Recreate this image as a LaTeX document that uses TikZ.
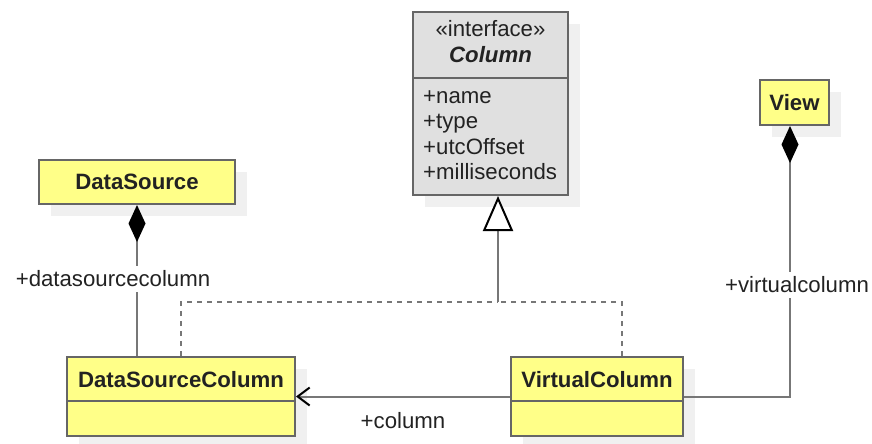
\documentclass[tikz,border=0pt]{standalone}
\usepackage{fontspec}
\setmainfont{Liberation Sans}
\usetikzlibrary{arrows.meta,shadows}

\definecolor{umlyellow}{HTML}{FFFF88}
\definecolor{umlgray}{HTML}{E0E0E0}
\definecolor{umlline}{HTML}{777777}
\definecolor{umlborder}{HTML}{666666}
\definecolor{umltext}{HTML}{222222}

\tikzset{
  box/.style={draw=umlborder, line width=2pt, fill=umlyellow, inner sep=0pt,
    drop shadow={shadow xshift=12pt, shadow yshift=-12pt, fill=black!6, opacity=1}},
  ifacebox/.style={box, fill=umlgray},
  txt/.style={text=umltext, inner sep=0pt, font=\fontsize{22.2}{25}\selectfont},
  btxt/.style={txt, font=\fontsize{22.2}{25}\selectfont\bfseries},
  lbl/.style={txt, fill=white, inner xsep=1pt, inner ysep=4.5pt},
  conn/.style={draw=umlline, line width=2pt},
  realize/.style={conn, line width=2.6pt, dash pattern=on 5pt off 5pt},
  compose/.style={conn, {Diamond[length=37pt,width=17pt,color=black,fill=black]}-},
  divider/.style={draw=umlborder, line width=2pt}
}

\begin{document}
\begin{tikzpicture}[x=1pt,y=-1pt]
\useasboundingbox (0,0) rectangle (872,444);

\node[ifacebox, minimum width=155pt, minimum height=183pt] (column) at (490.5,103.5) {};
\draw[divider] (column.west |- 0,78) -- (column.east |- 0,78);
\node[txt, anchor=base] (stereo) at (490.5,37) {«interface»};
\node[txt, anchor=base, font=\fontsize{22.2}{25}\selectfont\bfseries\itshape] (cname) at (490.5,63) {Column};
\foreach \a/\y in {name/103, type/128.5, utcOffset/154, milliseconds/179.5}
  \node[txt, anchor=base west] (attr-\a) at (423,\y) {+\a};

\node[box, btxt, minimum width=196pt, minimum height=44pt] (dsrc) at (137,182) {DataSource};
\node[box, btxt, minimum width=69pt, minimum height=45pt] (view) at (794.5,102.5) {View};

\node[box, minimum width=228pt, minimum height=79pt] (dscol) at (181,396.5) {};
\draw[divider] (dscol.west |- 0,401) -- (dscol.east |- 0,401);
\node[btxt, anchor=base] (dscolname) at (181,387) {DataSourceColumn};

\node[box, minimum width=172pt, minimum height=79pt] (vcol) at (597,396.5) {};
\draw[divider] (vcol.west |- 0,401) -- (vcol.east |- 0,401);
\node[btxt, anchor=base] (vcolname) at (597,387) {VirtualColumn};

\coordinate (junc) at (498,302);
\draw[realize] (dscol.north) |- (junc);
\draw[realize] ([xshift=25pt]vcol.north) |- (junc);
\draw[conn, -{Triangle[length=35pt,width=30pt,color=black,fill=white]}] (junc) -- ([xshift=7.5pt]column.south);

\draw[compose] (dsrc.south) -- (dsrc.south |- dscol.north);
\node[lbl] (dslbl) at (113,279) {+datasourcecolumn};

\draw[compose] ([xshift=-4.5pt]view.south) |- (vcol.east);
\node[lbl] (vlbl) at (797,285) {+virtualcolumn};

\draw[conn, -{Straight Barb[length=12pt,width=18pt,color=black]}] (vcol.west) -- (dscol.east);
\node[txt] (collbl) at (403,421) {+column};
\end{tikzpicture}
\end{document}
